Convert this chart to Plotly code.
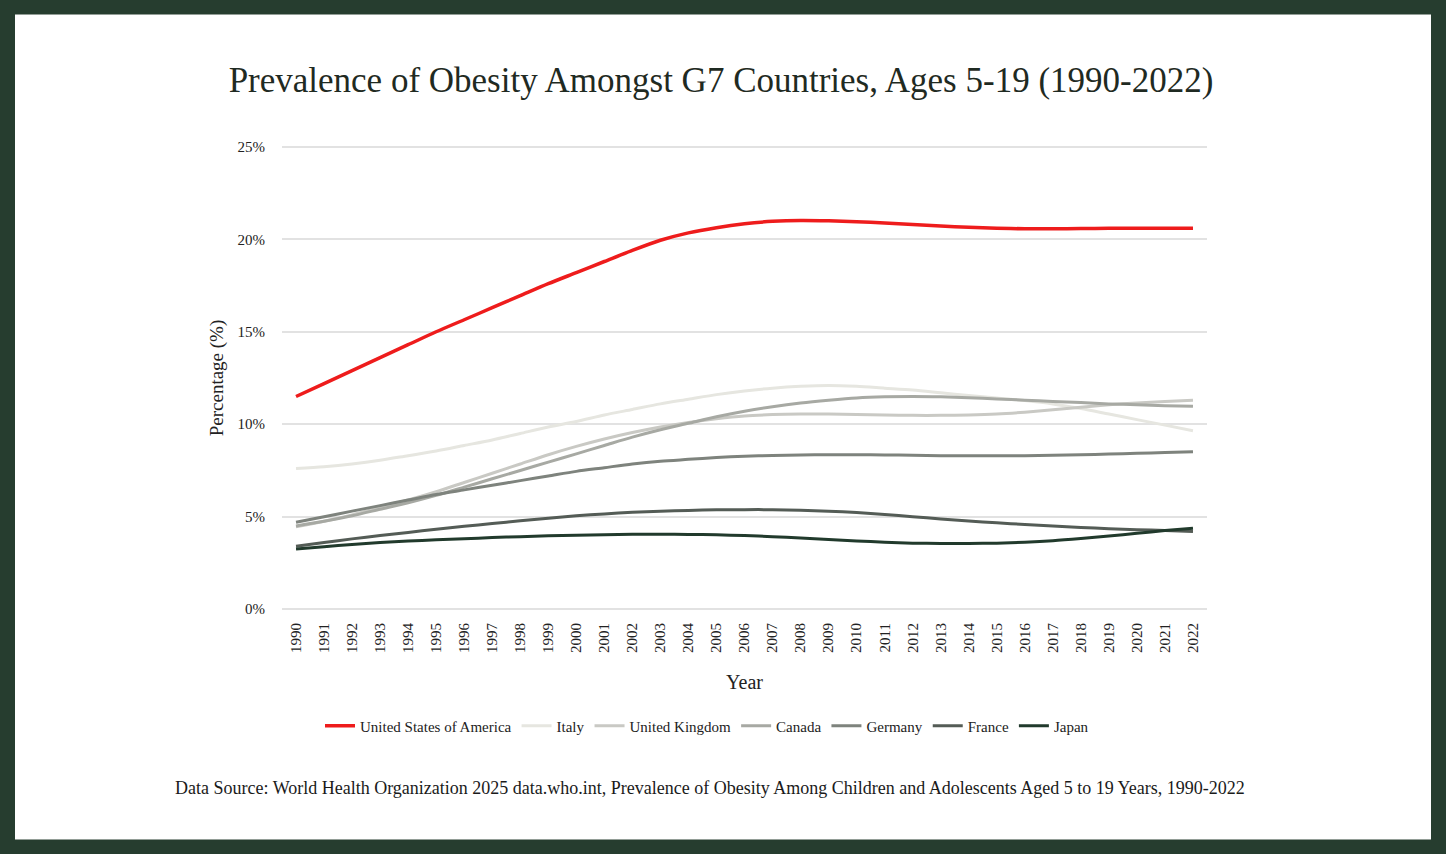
import plotly.graph_objects as go

# chart data
years = list(range(1990, 2023))

usa = [11.5, 12.2, 12.9, 13.6, 14.3, 15.0, 15.65, 16.3, 16.95, 17.6, 18.2,
       18.8, 19.4, 19.95, 20.35, 20.63, 20.84, 20.97, 21.02, 21.0, 20.95,
       20.88, 20.8, 20.72, 20.65, 20.6, 20.57, 20.57, 20.58, 20.6, 20.6,
       20.6, 20.6]
italy = [7.6, 7.7, 7.85, 8.05, 8.3, 8.55, 8.85, 9.15, 9.5, 9.85, 10.15,
         10.5, 10.8, 11.1, 11.35, 11.6, 11.8, 11.95, 12.05, 12.1, 12.05,
         11.95, 11.85, 11.7, 11.55, 11.42, 11.28, 11.1, 10.85, 10.55, 10.25,
         9.95, 9.65]
uk = [4.45, 4.75, 5.1, 5.5, 5.9, 6.35, 6.85, 7.35, 7.85, 8.35, 8.8,
      9.2, 9.55, 9.85, 10.1, 10.3, 10.45, 10.52, 10.55, 10.55, 10.53,
      10.5, 10.48, 10.48, 10.5, 10.55, 10.65, 10.78, 10.92, 11.05, 11.15,
      11.23, 11.3]
canada = [4.5, 4.75, 5.05, 5.4, 5.75, 6.15, 6.6, 7.05, 7.5, 7.95, 8.4,
          8.85, 9.3, 9.7, 10.05, 10.4, 10.7, 10.95, 11.15, 11.3, 11.42,
          11.48, 11.5, 11.48, 11.43, 11.37, 11.3, 11.23, 11.17, 11.1, 11.05,
          11.0, 10.97]
germany = [4.7, 5.0, 5.3, 5.6, 5.9, 6.2, 6.45, 6.7, 6.95, 7.2, 7.45,
           7.65, 7.85, 8.0, 8.1, 8.2, 8.27, 8.31, 8.34, 8.35, 8.35,
           8.34, 8.32, 8.3, 8.29, 8.29, 8.3, 8.32, 8.35, 8.39, 8.43,
           8.47, 8.51]
france = [3.4, 3.6, 3.8, 3.98, 4.15, 4.32, 4.48, 4.63, 4.78, 4.92, 5.05,
          5.15, 5.24, 5.3, 5.34, 5.37, 5.38, 5.38, 5.35, 5.3, 5.22,
          5.12, 5.0, 4.88, 4.77, 4.67, 4.58, 4.5, 4.42, 4.35, 4.3,
          4.25, 4.2]
japan = [3.25, 3.38, 3.5, 3.6, 3.68, 3.75, 3.81, 3.87, 3.92, 3.97, 4.0,
         4.03, 4.05, 4.05, 4.04, 4.02, 3.98, 3.92, 3.85, 3.77, 3.69,
         3.62, 3.57, 3.55, 3.55, 3.57, 3.62, 3.7, 3.82, 3.96, 4.1,
         4.25, 4.38]

names = ["United States of America", "Italy", "United Kingdom", "Canada",
         "Germany", "France", "Japan"]
series = [usa, italy, uk, canada, germany, france, japan]
colors = ["#ee1c1c", "#e6e6e0", "#c9c9c4", "#a7a9a3", "#7e837d", "#545c56", "#213a2c"]

y_ticks = [0, 5, 10, 15, 20, 25]
y_labels = ["0%", "5%", "10%", "15%", "20%", "25%"]

# page / plot geometry in pixels
W, H = 1446, 854
L, R, T, B = 282, 1207, 145, 611
green = "#263d2f"
serif = "Liberation Serif"


def px(x):
    return (x - L) / (R - L)


def py(y):
    return (B - y) / (B - T)


fig = go.Figure()

for name, vals, col in zip(names, series, colors):
    fig.add_trace(go.Scatter(
        x=[str(y) for y in years],
        y=vals,
        name=name,
        mode="lines",
        line=dict(color=col, width=3.5 if name.startswith("United States") else 3,
                  shape="spline", smoothing=0.8),
    ))

fig.update_layout(
    width=W, height=H,
    margin=dict(l=L, r=W - R, t=T, b=H - B),
    paper_bgcolor="white",
    plot_bgcolor="white",
    font=dict(family=serif, color="#222222"),
    title=dict(
        text="Prevalence of Obesity Amongst G7 Countries, Ages 5-19 (1990-2022)",
        font=dict(family=serif, size=35, color="#1f2a22"),
        xref="container", x=721 / W, xanchor="center",
        yref="container", y=1 - 80 / H, yanchor="middle",
    ),
    xaxis=dict(
        type="category",
        range=[-0.5, len(years) - 0.5],
        tickangle=-90,
        tickfont=dict(size=15, color="#222222"),
        showgrid=False,
        showline=False,
        ticks="",
        ticklabelstandoff=8,
        title=dict(text="Year", font=dict(size=20, color="#222222"), standoff=22),
    ),
    yaxis=dict(
        range=[-0.1, 25.1],
        tickmode="array",
        tickvals=y_ticks,
        ticktext=y_labels,
        tickfont=dict(size=15, color="#222222"),
        gridcolor="#e2e2e2",
        gridwidth=1.5,
        zeroline=False,
        showline=False,
        ticks="",
        ticklabelstandoff=16,
        title=dict(text="Percentage (%)", font=dict(size=19, color="#222222"), standoff=8),
    ),
    legend=dict(
        orientation="h",
        xref="paper", x=px(707), xanchor="center",
        yref="paper", y=py(726), yanchor="middle",
        font=dict(size=15, color="#222222"),
        itemwidth=30,
    ),
    showlegend=True,
)

# data source note
fig.add_annotation(
    text="Data Source: World Health Organization 2025 data.who.int, Prevalence of Obesity Among "
         "Children and Adolescents Aged 5 to 19 Years, 1990-2022",
    xref="paper", yref="paper", x=px(710), y=py(788),
    xanchor="center", yanchor="middle", showarrow=False,
    font=dict(family=serif, size=18, color="#1a1a1a"),
)

# dark green frame round the page
fig.add_shape(
    type="rect", xref="paper", yref="paper",
    x0=px(7.5), x1=px(W - 7.5), y0=py(H - 7), y1=py(7),
    line=dict(color=green, width=15), fillcolor="rgba(0,0,0,0)", layer="above",
)

fig.write_html("out.html", config={"displayModeBar": False},
               post_script="document.body.style.margin='0';")
